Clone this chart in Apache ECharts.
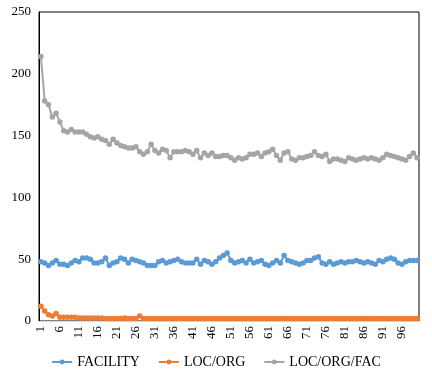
<!DOCTYPE html>
<html>
<head>
<meta charset="utf-8">
<script src="https://cdn.jsdelivr.net/npm/echarts@6/dist/echarts.min.js"></script>
<style>
  html, body { margin: 0; padding: 0; background: #fff; }
  #chart { width: 432px; height: 381px; }
</style>
</head>
<body>
<div id="chart"></div>
<script>
// x categories 1..100
const categories = [];
for (let i = 1; i <= 100; i++) categories.push(String(i));

const facility = [
  48, 47, 45, 47, 49, 46, 46, 45, 47, 49,
  48, 51, 51, 50, 47, 47, 48, 51, 45, 47,
  48, 51, 50, 47, 50, 49, 48, 47, 45, 45,
  45, 48, 49, 47, 48, 49, 50, 48, 47, 47,
  47, 50, 46, 49, 48, 46, 48, 51, 53, 55,
  49, 47, 48, 49, 47, 50, 47, 48, 49, 46,
  45, 47, 49, 47, 53, 49, 48, 47, 46, 47,
  49, 49, 51, 52, 47, 46, 48, 46, 47, 48,
  47, 48, 48, 49, 48, 47, 48, 47, 46, 49,
  48, 50, 51, 50, 47, 46, 48, 49, 49, 49
];

const locOrg = [
  12, 8, 5, 4, 6, 3, 3, 3, 3, 3,
  2.5, 2.5, 2.5, 2.5, 2.5, 2.5, 2.5, 2, 2, 2,
  2, 2, 2.5, 2, 2, 2, 4, 2, 2, 2,
  2, 2, 2, 2, 2, 2, 2, 2, 2, 2,
  2, 2, 2, 2, 2, 2, 2, 2, 2, 2,
  2, 2, 2, 2, 2, 2, 2, 2, 2, 2,
  2, 2, 2, 2, 2, 2, 2, 2, 2, 2,
  2, 2, 2, 2, 2, 2, 2, 2, 2, 2,
  2, 2, 2, 2, 2, 2, 2, 2, 2, 2,
  2, 2, 2, 2, 2, 2, 2, 2, 2, 2
];

const locOrgFac = [
  214, 178, 175, 165, 168, 161, 154, 153, 155, 153,
  153, 153, 151, 149, 148, 149, 147, 146, 143, 147,
  144, 142, 141, 140, 140, 141, 137, 135, 137, 143,
  138, 136, 139, 138, 132, 137, 137, 137, 138, 137,
  135, 138, 132, 136, 134, 136, 133, 133, 134, 134,
  132, 130, 132, 131, 132, 135, 135, 136, 133, 136,
  137, 139, 134, 130, 136, 137, 131, 130, 132, 132,
  133, 134, 137, 134, 133, 135, 129, 131, 131, 130,
  129, 132, 131, 130, 131, 132, 131, 132, 131, 130,
  132, 135, 134, 133, 132, 131, 130, 133, 136, 132
];

const seriesNames = ['FACILITY', 'LOC/ORG', 'LOC/ORG/FAC'];
const colors = ['#5B9BD5', '#ED7D31', '#A5A5A5'];

const font = '"Liberation Serif", "Times New Roman", serif';

const mkSeries = (name, data, color) => ({
  name,
  type: 'line',
  data,
  symbol: 'circle',
  symbolSize: 5.5,
  showAllSymbol: true,
  lineStyle: { width: 2, color },
  itemStyle: { color },
  animation: false,
});

const chart = echarts.init(document.getElementById('chart'));
chart.setOption({
  animation: false,
  color: colors,
  grid: {
    left: 39, right: 13, top: 12, bottom: 60,
    show: true, borderColor: '#000', borderWidth: 1,
  },
  xAxis: {
    type: 'category',
    data: categories,
    boundaryGap: true,
    axisLine: { lineStyle: { color: '#d9d9d9' } },
    axisTick: { show: false },
    axisLabel: {
      interval: 4,
      rotate: 90,
      margin: 5,
      color: '#000',
      fontFamily: font,
      fontSize: 13,
    },
  },
  yAxis: {
    type: 'value',
    min: 0, max: 250, interval: 50,
    splitLine: { show: false },
    axisLine: { show: true, lineStyle: { color: '#000' } },
    axisTick: { show: false },
    axisLabel: { color: '#000', fontFamily: font, fontSize: 13, margin: 8 },
  },
  legend: {
    bottom: 7,
    left: 'center',
    itemWidth: 20,
    itemHeight: 6,
    itemGap: 18,
    textStyle: { color: '#000', fontFamily: font, fontSize: 14 },
    data: seriesNames,
  },
  series: [
    mkSeries(seriesNames[0], facility, colors[0]),
    mkSeries(seriesNames[1], locOrg, colors[1]),
    mkSeries(seriesNames[2], locOrgFac, colors[2]),
  ],
});
</script>
</body>
</html>
